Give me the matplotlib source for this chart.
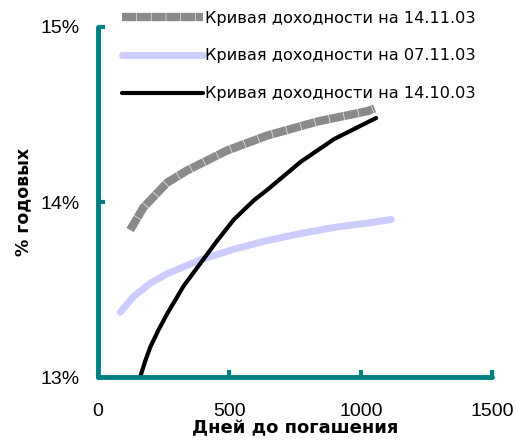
import matplotlib
matplotlib.use('Agg')
import matplotlib.pyplot as plt
from matplotlib.ticker import FuncFormatter

plt.rcParams['font.family'] = ['Liberation Sans', 'DejaVu Sans']

# Curve values (days to maturity, % per year)
days_1411 = [124, 175, 264, 340, 493, 645, 836, 1027, 1052]
rate_1411 = [13.84, 13.97, 14.11, 14.18, 14.295, 14.38, 14.46, 14.52, 14.535]

days_0711 = [86, 137, 200, 264, 391, 518, 645, 772, 899, 1027, 1116]
rate_0711 = [13.37, 13.46, 13.535, 13.59, 13.67, 13.73, 13.78, 13.82, 13.855, 13.88, 13.90]

days_1410 = [162, 181, 200, 232, 264, 327, 391, 455, 518, 594, 645, 772, 899, 1058]
rate_1410 = [13.00, 13.09, 13.17, 13.27, 13.36, 13.52, 13.65, 13.78, 13.90, 14.01, 14.07, 14.23, 14.36, 14.48]

labels = ['Кривая доходности на 14.11.03',
          'Кривая доходности на 07.11.03',
          'Кривая доходности на 14.10.03']

teal = '#008080'

fig = plt.figure(figsize=(5.17, 4.41), dpi=100)
ax = fig.add_axes([0.1886, 0.1451, 0.764, 0.7937])

l1, = ax.plot(days_1411, rate_1411, color='#8a8a8a', lw=6,
              dashes=[1.7, 0.07], solid_capstyle='butt', label=labels[0])
l2, = ax.plot(days_0711, rate_0711, color='#ccccff', lw=5,
              solid_capstyle='round', label=labels[1])
l3, = ax.plot(days_1410, rate_1410, color='black', lw=3,
              solid_capstyle='round', label=labels[2])

ax.set_xlim(0, 1500)
ax.set_ylim(13, 15)
ax.set_xticks([0, 500, 1000, 1500])
ax.set_yticks([13, 14, 15])
ax.yaxis.set_major_formatter(FuncFormatter(lambda v, p: '%d%%' % v))

for s in ['top', 'right']:
    ax.spines[s].set_visible(False)
for s in ['left', 'bottom']:
    ax.spines[s].set_color(teal)
    ax.spines[s].set_linewidth(3.5)
    ax.spines[s].set_capstyle('round')

ax.tick_params(direction='in', length=5, width=3, color=teal, labelsize=14)
ax.tick_params(axis='x', pad=19)
ax.tick_params(axis='y', pad=13)

ax.set_xlabel('Дней до погашения', fontsize=13, fontweight='bold',
              family='DejaVu Sans', labelpad=-1)
ax.set_ylabel('% годовых', fontsize=12.5, fontweight='bold',
              family='DejaVu Sans', labelpad=6)

fig.legend(handles=[l1, l2, l3], loc='upper left',
           bbox_to_anchor=(0.236, 0.976), frameon=False,
           prop={'family': 'DejaVu Sans', 'size': 11.6},
           handlelength=5.0, handletextpad=0.12, labelspacing=1.42,
           borderpad=0, borderaxespad=0)

fig.savefig('out.png', dpi=100)
